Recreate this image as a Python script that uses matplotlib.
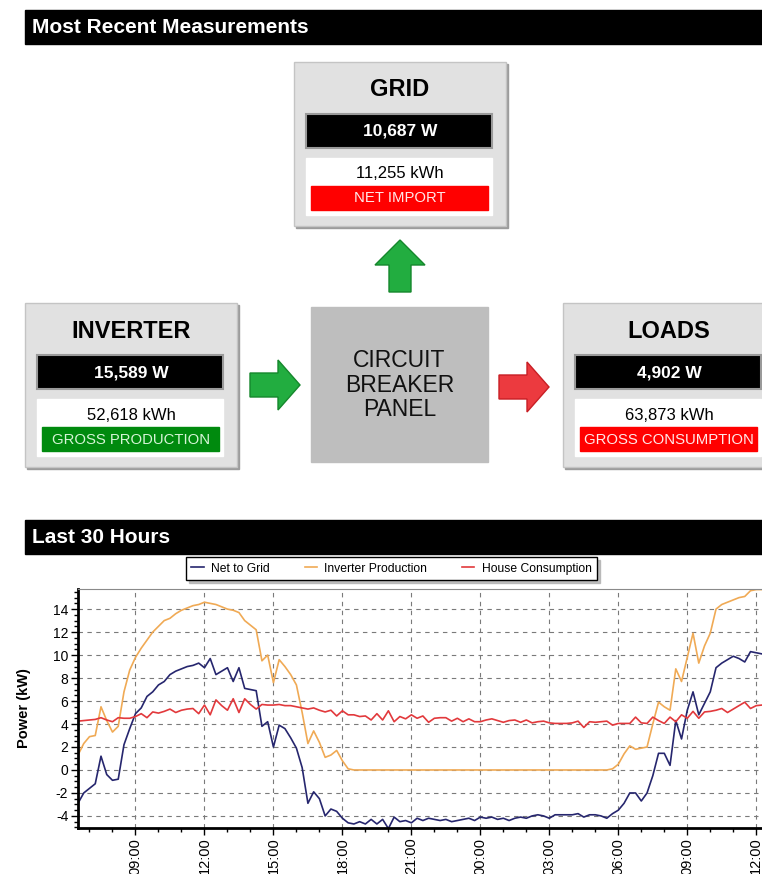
import matplotlib
matplotlib.use('Agg')
import matplotlib.pyplot as plt
import matplotlib.dates as mdates
import matplotlib.patches as patches
from matplotlib.lines import Line2D
import numpy as np
import pandas as pd

plt.rcParams['font.family'] = ['Liberation Sans', 'DejaVu Sans']
plt.rcParams['axes.unicode_minus'] = False

# --- dashboard values ---
meter_titles = ['GRID', 'INVERTER', 'LOADS']
meter_power = ['10,687 W', '15,589 W', '4,902 W']
meter_energy = ['11,255 kWh', '52,618 kWh', '63,873 kWh']
meter_labels = ['NET IMPORT', 'GROSS PRODUCTION', 'GROSS CONSUMPTION']
panel_text = 'CIRCUIT\nBREAKER\nPANEL'

# --- last 30 hours, 15 min samples starting 06:30 (kW) ---
series_names = ['Net to Grid', 'Inverter Production', 'House Consumption']

net_to_grid = [
    -2.9, -2.0, -1.6, -1.2, 1.2, -0.4, -0.9, -0.8, 2.2, 3.6,
    4.9, 5.4, 6.4, 6.8, 7.4, 7.7, 8.3, 8.6, 8.8, 9.0,
    9.1, 9.3, 8.9, 9.7, 8.3, 8.6, 8.9, 7.7, 8.9, 7.1,
    7.0, 6.9, 3.8, 4.2, 2.0, 3.9, 3.6, 2.8, 1.9, 0.2,
    -2.9, -1.9, -2.5, -4.0, -3.4, -3.6, -4.2, -4.6, -4.7, -4.5,
    -4.7, -4.3, -4.7, -4.3, -5.1, -4.1, -4.5, -4.4, -4.6, -4.2,
    -4.4, -4.2, -4.3, -4.4, -4.3, -4.5, -4.4, -4.3, -4.2, -4.4,
    -4.1, -4.2, -4.1, -4.3, -4.2, -4.4, -4.2, -4.1, -4.2, -4.0,
    -3.9, -4.0, -4.2, -3.9, -3.9, -3.9, -3.9, -3.8, -4.1, -3.9,
    -3.9, -4.0, -4.2, -3.8, -3.5, -2.9, -2.0, -2.0, -2.7, -2.0,
    -0.5, 1.45, 1.45, 0.4, 4.3, 2.7, 5.2, 6.8, 4.8, 5.8,
    6.8, 8.9, 9.3, 9.6, 9.9, 9.7, 9.4, 10.3, 10.2, 10.1,
]

inverter_production = [
    1.3, 2.3, 2.9, 3.0, 5.5, 4.3, 3.3, 3.8, 6.8, 8.7,
    9.8, 10.6, 11.3, 12.0, 12.5, 13.0, 13.2, 13.6, 13.9, 14.1,
    14.3, 14.4, 14.6, 14.5, 14.4, 14.2, 14.0, 13.9, 13.7, 13.0,
    12.6, 12.2, 9.5, 10.0, 7.6, 9.6, 9.0, 8.3, 7.4, 5.0,
    2.3, 3.4, 2.4, 1.1, 1.3, 1.7, 0.8, 0.1, 0.0, 0.0,
    0.0, 0.0, 0.0, 0.0, 0.0, 0.0, 0.0, 0.0, 0.0, 0.0,
    0.0, 0.0, 0.0, 0.0, 0.0, 0.0, 0.0, 0.0, 0.0, 0.0,
    0.0, 0.0, 0.0, 0.0, 0.0, 0.0, 0.0, 0.0, 0.0, 0.0,
    0.0, 0.0, 0.0, 0.0, 0.0, 0.0, 0.0, 0.0, 0.0, 0.0,
    0.0, 0.0, 0.0, 0.1, 0.5, 1.4, 2.1, 1.8, 1.9, 2.0,
    4.0, 5.9, 5.5, 5.2, 8.8, 7.7, 9.8, 11.9, 9.3, 10.8,
    11.9, 14.0, 14.4, 14.6, 14.8, 15.0, 15.1, 15.6, 15.7, 15.7,
]

house_consumption = [
    4.25, 4.3, 4.35, 4.4, 4.55, 4.35, 4.2, 4.55, 4.5, 4.5,
    4.65, 4.9, 4.55, 5.05, 4.95, 5.1, 5.3, 5.0, 5.2, 5.3,
    5.35, 4.9, 5.65, 4.8, 6.1, 5.6, 5.2, 6.2, 5.0, 6.2,
    5.7, 5.3, 5.7, 5.65, 5.65, 5.7, 5.6, 5.6, 5.5, 5.4,
    5.3, 5.4, 5.2, 5.05, 5.2, 4.7, 5.15, 4.8, 4.8, 4.65,
    4.7, 4.35, 4.9, 4.35, 5.15, 4.2, 4.65, 4.45, 4.8, 4.5,
    4.7, 4.15, 4.5, 4.55, 4.55, 4.25, 4.5, 4.2, 4.45, 4.2,
    4.2, 4.35, 4.45, 4.3, 4.15, 4.3, 4.35, 4.15, 4.35, 4.1,
    4.2, 4.25, 4.1, 4.05, 4.05, 4.05, 4.1, 4.25, 3.7, 4.2,
    4.15, 4.2, 4.25, 3.9, 4.05, 4.05, 4.05, 4.6, 4.1, 4.05,
    4.6, 4.3, 4.05, 4.6, 4.2, 4.8, 4.5, 5.1, 4.5, 5.05,
    5.1, 5.2, 5.35, 5.0, 5.3, 5.6, 5.9, 5.35, 5.6, 5.65,
]

times = pd.date_range('2013-06-01 06:30', periods=len(net_to_grid), freq='15min').to_numpy()
series = [net_to_grid, inverter_production, house_consumption]
colors = ['#26266e', '#f0aa55', '#e2393c']

W, H = 762, 874
fig = plt.figure(figsize=(W / 100, H / 100), dpi=100)

# background canvas in pixel units
bg = fig.add_axes([0, 0, 1, 1])
bg.set_xlim(0, W)
bg.set_ylim(H, 0)
bg.axis('off')


def header(y, text):
    bg.add_patch(patches.Rectangle((25, y), W - 25, 34, color='black'))
    bg.text(32, y + 17.5, text, color='white', fontsize=15, fontweight='bold',
            va='center', ha='left')


def meter(x, y, title, power, energy, label, lcolor, tcolor):
    bg.add_patch(patches.Rectangle((x + 2, y + 2), 212, 164, color='#9c9c9c'))
    bg.add_patch(patches.Rectangle((x, y), 212, 164, facecolor='#e1e1e1',
                                   edgecolor='#c4c4c4', lw=1))
    bg.text(x + 106, y + 28, title, fontsize=17, fontweight='bold',
            ha='center', va='center')
    bg.add_patch(patches.Rectangle((x + 12, y + 52), 186, 34, facecolor='black',
                                   edgecolor='#9a9a9a', lw=1.5))
    bg.text(x + 106, y + 69.5, power, color='white', fontsize=12.5,
            fontweight='bold', ha='center', va='center')
    bg.add_patch(patches.Rectangle((x + 12, y + 96), 186, 57, color='white'))
    bg.text(x + 106, y + 112, energy, fontsize=12, ha='center', va='center')
    bg.add_patch(patches.Rectangle((x + 17, y + 124), 177, 24, color=lcolor))
    bg.text(x + 106, y + 136.5, label, color=tcolor, fontsize=10.7,
            ha='center', va='center')


header(10, 'Most Recent Measurements')
header(520, 'Last 30 Hours')

meter(294, 62, meter_titles[0], meter_power[0], meter_energy[0], meter_labels[0],
      '#ff0000', '#ffe8e8')
meter(25, 303, meter_titles[1], meter_power[1], meter_energy[1], meter_labels[1],
      '#008a0e', '#d6f5d6')
meter(563, 303, meter_titles[2], meter_power[2], meter_energy[2], meter_labels[2],
      '#ff0000', '#ffe8e8')

# breaker panel
bg.add_patch(patches.Rectangle((311, 307), 177, 155, color='#bebebe'))
bg.text(399.5, 385, panel_text, fontsize=16.5, ha='center', va='center',
        linespacing=1.08, color='#111111')

# arrows
bg.add_patch(patches.FancyArrow(400, 292, 0, -52, width=22, head_width=50,
                                head_length=25, length_includes_head=True,
                                facecolor='#22ad40', edgecolor='#15872c', lw=1))
bg.add_patch(patches.FancyArrow(250, 385, 50, 0, width=24, head_width=50,
                                head_length=22, length_includes_head=True,
                                facecolor='#22ad40', edgecolor='#15872c', lw=1))
bg.add_patch(patches.FancyArrow(499, 387, 50, 0, width=24, head_width=50,
                                head_length=22, length_includes_head=True,
                                facecolor='#ec3a3f', edgecolor='#c81e24', lw=1))

# chart
ax = fig.add_axes([78 / W, 1 - 828 / H, 684 / W, 239 / H])
for name, vals, c in zip(series_names, series, colors):
    ax.plot(times, vals, color=c, lw=1.2, label=name)

ax.set_xlim(times[0], times[0] + np.timedelta64(int(29.75 * 60), 'm'))
ax.set_ylim(-5.05, 15.75)
ax.set_yticks(np.arange(-4, 15, 2))
ax.yaxis.set_minor_locator(matplotlib.ticker.MultipleLocator(0.5))
ax.xaxis.set_major_locator(mdates.HourLocator(byhour=range(0, 24, 3)))
ax.xaxis.set_minor_locator(mdates.HourLocator())
ax.xaxis.set_major_formatter(mdates.DateFormatter('%H:%M'))
for lbl in ax.get_xticklabels():
    lbl.set_rotation(90)
ax.tick_params(axis='x', labelsize=10.5, length=5, width=1, pad=2)
ax.tick_params(axis='y', labelsize=10, length=5, width=1, pad=2)
ax.tick_params(which='minor', length=3, width=1)
ax.grid(True, which='major', color='#7a7a7a', linestyle=(0, (4, 4)), lw=0.8)
ax.set_ylabel('Power (kW)', fontsize=10.5, fontweight='bold', labelpad=16)
ax.spines['left'].set_linewidth(2)
ax.spines['bottom'].set_linewidth(2)
ax.spines['top'].set_color('#8a8a8a')
ax.spines['right'].set_visible(False)

handles = [Line2D([], [], color=c, lw=1.2) for c in colors]
leg = ax.legend(handles, series_names, loc='lower left', ncol=3, mode='expand',
                bbox_to_anchor=(180 / W, 1 - 586 / H, 423 / W, 25 / H),
                bbox_transform=fig.transFigure, fontsize=8.7, handlelength=1.0,
                handletextpad=0.6, borderpad=0.45, fancybox=False, framealpha=1,
                edgecolor='black',
                shadow={'facecolor': '#b0b0b0', 'edgecolor': '#b0b0b0', 'alpha': 0.8})
leg.get_frame().set_linewidth(1)

fig.savefig('out.png', dpi=100)
